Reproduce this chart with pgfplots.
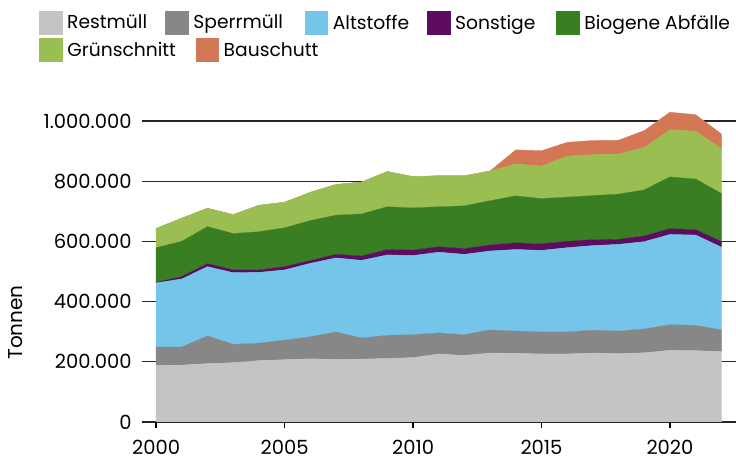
\documentclass[border=0pt]{standalone}
\usepackage{pgfplots}
\usepackage{pgfplotstable}
\pgfplotsset{compat=1.18}
\usepackage{fontspec}
\setmainfont{Poppins}
\definecolor{cRest}{HTML}{C4C4C4}
\definecolor{cSperr}{HTML}{878787}
\definecolor{cAlt}{HTML}{75C4EA}
\definecolor{cSonst}{HTML}{5C0D5F}
\definecolor{cBio}{HTML}{397E22}
\definecolor{cGruen}{HTML}{9BBE52}
\definecolor{cBau}{HTML}{D37756}
\pgfplotsset{mylegend/.style={legend image code/.code={\fill[##1] (0bp,-11.35bp) rectangle (22.7bp,11.35bp);}}}
\pgfplotstableread{
year rest sperr alt sonst bio gruen bau
2000 188000 61000 213000 2000 115000 64000 0
2001 189000 60000 226000 8000 117000 77000 0
2002 194000 92000 230000 10000 123000 61000 0
2003 197000 61000 238000 9000 121000 63000 0
2004 204000 58000 235000 8000 127000 88000 0
2005 207000 65000 233000 11000 129000 85000 0
2006 210000 73000 244000 9000 133000 94000 0
2007 208000 91000 246000 12000 130000 102000 0
2008 209000 70000 258000 14000 140000 106000 0
2009 211000 77000 267000 18000 142000 117000 0
2010 214000 76000 263000 18000 140000 104000 0
2011 226000 70000 268000 18000 133000 103000 0
2012 221000 69000 267000 19000 142000 100000 0
2013 229000 77000 262000 20000 147000 99000 0
2014 228000 74000 271000 22000 156000 106000 47000
2015 226000 73000 271000 22000 150000 108000 51000
2016 226000 73000 280000 21000 147000 136000 46000
2017 229000 76000 281000 20000 146000 136000 47000
2018 227000 75000 288000 17000 150000 133000 46000
2019 230000 79000 290000 19000 153000 141000 56000
2020 238000 85000 300000 19000 172000 157000 58000
2021 237000 84000 300000 18000 168000 159000 55000
2022 234000 72000 275000 18000 160000 149000 49000
}\data
\begin{document}
\begin{tikzpicture}
\path[use as bounding box] (-141.7bp,-39bp) rectangle (594.3bp,422bp);
\begin{axis}[
  at={(0,0)}, anchor=south west,
  scale only axis, width=594.3bp, height=316.1bp,
  xmin=1999.44, xmax=2022.57, ymin=0, ymax=1050000,
  stack plots=y, axis on top=false,
  axis line style={draw=none},
  xtick={2000,2005,2010,2015,2020},
  xtick pos=bottom, tick align=outside,
  major tick length=6bp,
  ytick={0,200000,400000,600000,800000,1000000},
  ymajorgrids, grid style={black!85, line width=1.2bp},
  xtick style={black, line width=1.2bp},
  ytick style={draw=none},
  scaled y ticks=false,
  /pgf/number format/assume math mode=true,
  xticklabel style={/pgf/number format/1000 sep={}, inner sep=0pt, anchor=north, yshift=-12bp, font=\fontsize{19.5bp}{22bp}\selectfont},
  yticklabel style={/pgf/number format/.cd, fixed, 1000 sep={.}, /tikz/.cd, inner sep=0pt, anchor=east, xshift=-4bp, font=\fontsize{19.5bp}{22bp}\selectfont},
  ylabel={Tonnen},
  every axis y label/.style={at={(axis description cs:-0.2124,0.3148)}, rotate=90, anchor=center, font=\fontsize{20bp}{24bp}\selectfont},
  legend style={at={(axis description cs:-0.1728,1.3002)}, anchor=north west, draw=none, fill=none, inner sep=0pt,
    font=\fontsize{18.7bp}{22bp}\selectfont, nodes={inner sep=0pt},
    /tikz/every odd column/.style={column sep=5bp},
    /tikz/every even column/.style={column sep=17.5bp}},
  legend columns=5, legend cell align=left,
]
\addplot[fill=cRest, draw=cRest, line width=0.3bp, mylegend] table[x=year, y=rest] {\data} \closedcycle;
\addlegendentry{\makebox[80.8bp][l]{Restmüll}}
\addplot[fill=cSperr, draw=cSperr, line width=0.3bp, mylegend] table[x=year, y=sperr] {\data} \closedcycle;
\addlegendentry{\makebox[93.8bp][l]{Sperrmüll}}
\addplot[fill=cAlt, draw=cAlt, line width=0.3bp, mylegend] table[x=year, y=alt] {\data} \closedcycle;
\addlegendentry{\makebox[76.8bp][l]{Altstoffe}}
\addplot[fill=cSonst, draw=cSonst, line width=0.3bp, mylegend] table[x=year, y=sonst] {\data} \closedcycle;
\addlegendentry{\makebox[83.8bp][l]{Sonstige}}
\addplot[fill=cBio, draw=cBio, line width=0.3bp, mylegend] table[x=year, y=bio] {\data} \closedcycle;
\addlegendentry{Biogene Abfälle}
\addplot[fill=cGruen, draw=cGruen, line width=0.3bp, forget plot] table[x=year, y=gruen] {\data} \closedcycle;
\addplot[fill=cBau, draw=cBau, line width=0.3bp, forget plot] table[x=year, y=bau] {\data} \closedcycle;
\end{axis}
\begin{axis}[
  at={(0,0)}, anchor=south west,
  scale only axis, width=594.3bp, height=316.1bp,
  xmin=1999.44, xmax=2022.57, ymin=0, ymax=1050000,
  hide axis,
  legend style={at={(axis description cs:-0.1728,1.2139)}, anchor=north west, draw=none, fill=none, inner sep=0pt,
    font=\fontsize{18.7bp}{22bp}\selectfont, nodes={inner sep=0pt},
    /tikz/every odd column/.style={column sep=5bp},
    /tikz/every even column/.style={column sep=17.5bp}},
  legend columns=2, legend cell align=left,
]
\addlegendimage{fill=cGruen, draw=cGruen, mylegend}
\addlegendentry{\makebox[110.8bp][l]{Grünschnitt}}
\addlegendimage{fill=cBau, draw=cBau, mylegend}
\addlegendentry{Bauschutt}
\end{axis}
\end{tikzpicture}
\end{document}
